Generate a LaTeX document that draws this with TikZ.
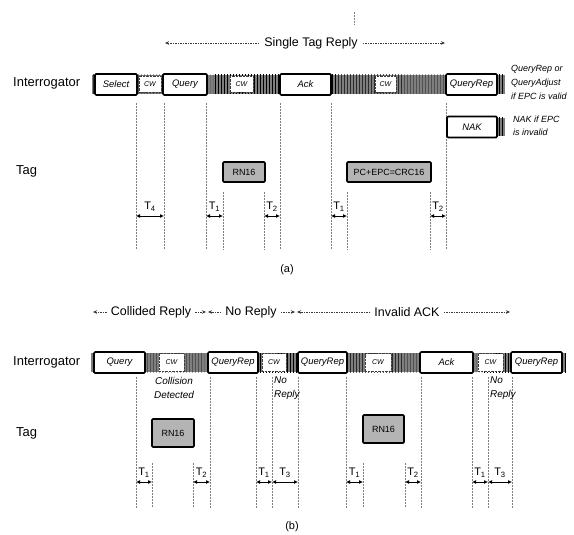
\documentclass[tikz,border=0pt]{standalone}
\usepackage{fontspec}
\setmainfont{Liberation Sans}
\usepackage{tikz}
\usetikzlibrary{
  arrows.meta,
  patterns,
  positioning
}
\definecolor{ScanGray}{HTML}{7E7E7E}
\definecolor{ScanDark}{HTML}{3C3C3C}
\definecolor{ScanLight}{HTML}{B4B4B4}

\begin{document}
\begin{tikzpicture}[x=1bp,y=-1bp,
  every node/.style={inner sep=0pt},
  rowlabel/.style={anchor=west,font=\fontsize{13}{14}\selectfont},
  spanlabel/.style={font=\fontsize{12.5}{14}\selectfont},
  cmdbox/.style={draw=black,line width=1.7bp,fill=white,rounded corners=1.2bp,
    minimum height=21bp,font=\fontsize{9.5}{10}\selectfont\itshape},
  cwbox/.style={draw=ScanDark,densely dotted,fill=white,minimum height=16bp,
    font=\fontsize{7}{8}\selectfont\itshape},
  tagbox/.style={draw=black,line width=1.7bp,fill=ScanLight,rounded corners=1bp,
    font=\fontsize{9}{10}\selectfont},
  note/.style={anchor=north west,align=left,font=\fontsize{9}{14}\selectfont\itshape},
  marker/.style={draw=ScanGray,line width=0.6bp,dash pattern=on 2bp off 1bp},
  span/.style={draw=ScanDark,line width=0.5bp,dash pattern=on 1.5bp off 1bp,
    -{Stealth[length=4bp,width=3.5bp]}},
  gap/.style={{Latex[length=4bp,width=4bp]}-{Latex[length=4bp,width=4bp]},line width=1bp},
  tlabel/.style={midway,above=4bp,font=\fontsize{11}{12}\selectfont},
  band/.style={pattern=vertical lines,pattern color=black}
]
\useasboundingbox (0,0) rectangle (574,535);

% (a) single tag reply
\draw[marker] (354,12) -- (354,25);
\node[spanlabel] (single) at (311,43) {Single Tag Reply};
\coordinate (singleL) at (165,43);
\coordinate (singleR) at (445,43);
\draw[span] ([xshift=-5bp]single.west) -- (singleL);
\draw[span] ([xshift=5bp]single.east) -- (singleR);

\node[rowlabel] (intA) at (13,83) {Interrogator};
\node[rowlabel] (tagA) at (16,171) {Tag};

\fill[ScanGray] (92,75) rectangle (505,94);
\fill[band] (92,75) rectangle (505,94);
\fill[ScanGray] (446,118) rectangle (505,136);
\fill[band] (446,118) rectangle (505,136);

\foreach \nm/\x/\top in {a1/136/103,a2/164/103,a3/206/103,a4/223/192,a5/264/192,
    a6/280/103,a7/331/103,a8/347/192,a9/430/192,a10/446/103}{
  \coordinate (\nm) at (\x,216);
  \draw[marker] (\x,\top) -- (\x,250);
}

\foreach \nm/\xa/\xb/\txt in {selA/95/137/Select,qryA/163/207/Query,
    ackA/280/331/Ack,repA/446/497/QueryRep}
  \node[cmdbox,minimum width={(\xb-\xa)*1bp}] (\nm) at ({(\xa+\xb)/2},84.5) {\txt};
\node[cmdbox,minimum width=50bp] (nakA) at (472,127) {NAK};
\foreach \nm/\xa/\xb in {cwA1/139/161,cwA2/230/253,cwA3/375/396}
  \node[cwbox,minimum width={(\xb-\xa)*1bp}] (\nm) at ({(\xa+\xb)/2},84.5) {CW};

\node[note] (validA) at (511,65) {QueryRep or\\QueryAdjust\\if EPC is valid};
\node[note,font=\fontsize{9}{13}\selectfont\itshape] (invalidA) at (513,116) {NAK if EPC\\is invalid};

\node[tagbox,minimum width=42bp,minimum height=20bp] (rnA) at (244,172) {RN16};
\node[tagbox,minimum width=84bp,minimum height=20bp] (pcA) at (389,172) {PC+EPC=CRC16};

\draw[gap] (a1) -- (a2) node[tlabel] {T\textsubscript{4}};
\draw[gap] (a3) -- (a4) node[tlabel] {T\textsubscript{1}};
\draw[gap] (a5) -- (a6) node[tlabel] {T\textsubscript{2}};
\draw[gap] (a7) -- (a8) node[tlabel] {T\textsubscript{1}};
\draw[gap] (a9) -- (a10) node[tlabel] {T\textsubscript{2}};

\node[font=\fontsize{11}{12}\selectfont] (capA) at (287,270) {(a)};

% (b) collision, no reply, invalid ack
\node[spanlabel] (collided) at (151,312) {Collided Reply};
\node[spanlabel] (noreply) at (251,312) {No Reply};
\node[spanlabel] (invalid) at (407,312) {Invalid ACK};
\coordinate (collidedL) at (93,312);
\coordinate (collidedR) at (206,312);
\coordinate (noreplyL) at (208,312);
\coordinate (noreplyR) at (295,312);
\coordinate (invalidL) at (297,312);
\coordinate (invalidR) at (510,312);
\foreach \nm in {collided,noreply,invalid}{
  \draw[span] ([xshift=-4bp]\nm.west) -- (\nm L);
  \draw[span] ([xshift=4bp]\nm.east) -- (\nm R);
}

\node[rowlabel] (intB) at (13,362) {Interrogator};
\node[rowlabel] (tagB) at (16,433) {Tag};

\fill[ScanGray] (91,353) rectangle (566,372);
\fill[band] (91,353) rectangle (566,372);

\foreach \nm/\x/\top in {b1/136/377,b2/152/463,b3/193/463,b4/210/377,b5/256/377,
    b6/272/377,b7/298/377,b8/346/377,b9/363/463,b10/405/463,b11/421/377,
    b12/472/377,b13/488/377,b14/512/377}{
  \coordinate (\nm) at (\x,482);
  \draw[marker] (\x,\top) -- (\x,508);
}

\foreach \nm/\xa/\xb/\txt in {qryB/94/145/Query,repB1/208/258/QueryRep,
    repB2/298/347/QueryRep,ackB/420/473/Ack,repB3/511/562/QueryRep}
  \node[cmdbox,minimum width={(\xb-\xa)*1bp}] (\nm) at ({(\xa+\xb)/2},362.5) {\txt};
\foreach \nm/\xa/\xb in {cwB1/159/184,cwB2/262/286,cwB3/365/391,cwB4/478/503}
  \node[cwbox,minimum width={(\xb-\xa)*1bp},minimum height=18bp] (\nm) at ({(\xa+\xb)/2},362.5) {CW};

\node[align=center,font=\fontsize{10}{14.5}\selectfont\itshape] (collision) at (174,388) {Collision\\Detected};
\node[note,font=\fontsize{10}{14.5}\selectfont\itshape] (noB1) at (274,376) {No\\Reply};
\node[note,font=\fontsize{10}{14.5}\selectfont\itshape] (noB2) at (490,376) {No\\Reply};

\node[tagbox,minimum width=42bp,minimum height=28bp] (rnB1) at (173,433) {RN16};
\node[tagbox,minimum width=41bp,minimum height=28bp] (rnB2) at (383.5,429) {RN16};

\draw[gap] (b1) -- (b2) node[tlabel] {T\textsubscript{1}};
\draw[gap] (b3) -- (b4) node[tlabel] {T\textsubscript{2}};
\draw[gap] (b5) -- (b6) node[tlabel] {T\textsubscript{1}};
\draw[gap] (b6) -- (b7) node[tlabel] {T\textsubscript{3}};
\draw[gap] (b8) -- (b9) node[tlabel] {T\textsubscript{1}};
\draw[gap] (b10) -- (b11) node[tlabel] {T\textsubscript{2}};
\draw[gap] (b12) -- (b13) node[tlabel] {T\textsubscript{1}};
\draw[gap] (b13) -- (b14) node[tlabel] {T\textsubscript{3}};

\node[font=\fontsize{11}{12}\selectfont] (capB) at (292,527) {(b)};
\end{tikzpicture}
\end{document}
